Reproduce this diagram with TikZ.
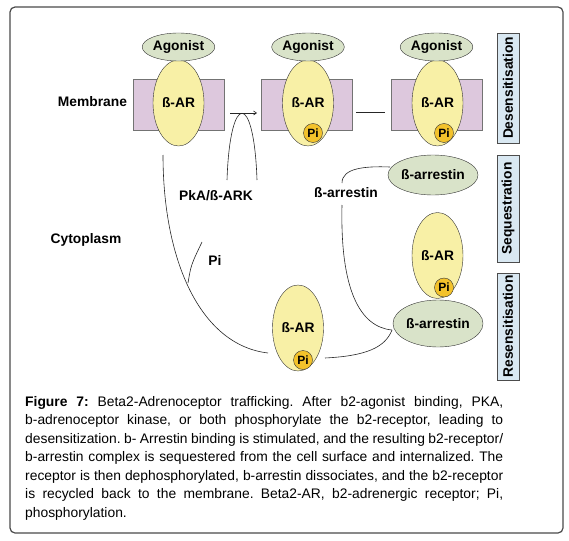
\documentclass[tikz,border=0pt]{standalone}
\usepackage{fontspec}
\setmainfont{Liberation Sans}
\usepackage{tikz}
\usetikzlibrary{positioning,arrows.meta,shapes.geometric,calc}
\definecolor{memfill}{HTML}{DDC8DD}
\definecolor{recfill}{HTML}{F8F0A6}
\definecolor{agfill}{HTML}{D9E3C9}
\definecolor{phosfill}{HTML}{F3C22B}
\definecolor{phasefill}{HTML}{D9E8F2}
\definecolor{framegray}{HTML}{4A4A4A}
\frenchspacing

\begin{document}
\begin{tikzpicture}[x=1pt,y=-1pt,
    every node/.style={font=\fontsize{13.8}{16}\selectfont\bfseries},
    membox/.style={draw=black!55,fill=memfill,minimum width=91pt,minimum height=51pt,inner sep=0pt},
    receptor/.style={ellipse,draw=black!80,fill=recfill,minimum width=51pt,minimum height=86pt,inner sep=0pt},
    agonist/.style={ellipse,draw=black!80,fill=agfill,minimum width=63pt,minimum height=28pt,inner sep=0pt},
    arrestin/.style={ellipse,draw=black!80,fill=agfill,inner sep=0pt},
    phos/.style={circle,draw=black!80,fill=phosfill,minimum size=19pt,inner sep=0pt,font=\fontsize{12}{14}\selectfont\bfseries},
    phase/.style={draw=black!70,fill=phasefill,rotate=90,minimum height=22pt,inner sep=0pt},
    link/.style={draw=black!85,line width=0.6pt}]
  \useasboundingbox (0,0) rectangle (569,540);
  \draw[framegray,line width=1.2pt,rounded corners=5pt] (10,7) rectangle (563,533);

  % membrane segments
  \node[membox] (mem1) at (178.5,104.5) {};
  \node[membox] (mem2) at (306.5,104.5) {};
  \node[membox] (mem3) at (437,104.5) {};

  % receptors, agonists, phosphates
  \node[receptor] (ar1) at (178.5,103) {ß-AR};
  \node[receptor] (ar2) at (308,103) {ß-AR};
  \node[receptor] (ar3) at (437.5,103) {ß-AR};
  \node[receptor] (ar4) at (437.5,255.5) {ß-AR};
  \node[receptor] (ar5) at (298,328) {ß-AR};
  \node[agonist] (ag1) at (178.5,47) {Agonist};
  \node[agonist] (ag2) at (308,47) {Agonist};
  \node[agonist] (ag3) at (436.5,47) {Agonist};
  \node[phos] (pi2) at (313,133) {Pi};
  \node[phos] (pi3) at (444,133) {Pi};
  \node[phos] (pi4) at (444,287.5) {Pi};
  \node[phos] (pi5) at (303,360) {Pi};
  \node[arrestin,minimum width=76pt,minimum height=40pt] (arr1) at (433,175) {ß-arrestin};
  \node[arrestin,minimum width=84pt,minimum height=47pt] (arr2) at (438,323.5) {ß-arrestin};

  % labels
  \node[anchor=base] (membrane) at (92.5,107) {Membrane};
  \node[anchor=base] (cyto) at (86,243) {Cytoplasm};
  \node[anchor=base] (pka) at (216,200) {PkA/ß-ARK};
  \node[anchor=base] (pilab) at (215,265) {Pi};
  \node[anchor=base] (arrlab) at (346,197) {ß-arrestin};

  % phases
  \node[phase,minimum width=110pt] (desens) at (508,88) {Desensitisation};
  \node[phase,minimum width=107pt] (seques) at (508,208.5) {Sequestration};
  \node[phase,minimum width=107pt] (resens) at (508,326.5) {Resensitisation};

  % connectors
  \coordinate (k1) at (230,113); \coordinate (k2) at (257,113);
  \coordinate (k3) at (356,112); \coordinate (k4) at (385,112);
  \coordinate (pk1) at (227,180); \coordinate (pk2) at (257,180);
  \coordinate (c1) at (163,155); \coordinate (c2) at (268,353);
  \coordinate (pb1) at (188,283); \coordinate (pb2) at (202,242);
  \coordinate (m0) at (325,358); \coordinate (m1) at (392,330);
  \coordinate (a0) at (342,205); \coordinate (a1) at (342,183); \coordinate (a2) at (390,167);
  \draw[link,-{Straight Barb[length=3pt,width=4pt]}] (k1) -- (k2);
  \draw[link] (k3) -- (k4);
  \draw[link] (pk1) .. controls (230,91) and (254,91) .. (pk2);
  \draw[link] (c1) .. controls (163,260) and (200,345) .. (c2);
  \draw[link] (pb1) .. controls (191,265) .. (pb2);
  \draw[link] (m0) .. controls (365,356) and (385,348) .. (m1);
  \draw[link] (a0) .. controls (340,290) and (360,327) .. (m1);
  \draw[link] (a1) .. controls (342,168) and (365,166) .. (a2);

  % caption
  \node[anchor=north west,inner sep=0pt,text width=478pt,align=justify,
        font=\fontsize{13.85}{18.5}\selectfont] (caption) at (25,396)
    {\tolerance=10000\hyphenpenalty=10000
     \textbf{Figure 7:} Beta2-Adrenoceptor trafficking. After b2-agonist binding, PKA,\linebreak
     b-adrenoceptor kinase, or both phosphorylate the b2-receptor, leading to\linebreak
     desensitization. b- Arrestin binding is stimulated, and the resulting b2-receptor/\linebreak
     b-arrestin complex is sequestered from the cell surface and internalized. The\linebreak
     receptor is then dephosphorylated, b-arrestin dissociates, and the b2-receptor\linebreak
     is recycled back to the membrane. Beta2-AR, b2-adrenergic receptor; Pi,\linebreak
     phosphorylation.};
\end{tikzpicture}
\end{document}
